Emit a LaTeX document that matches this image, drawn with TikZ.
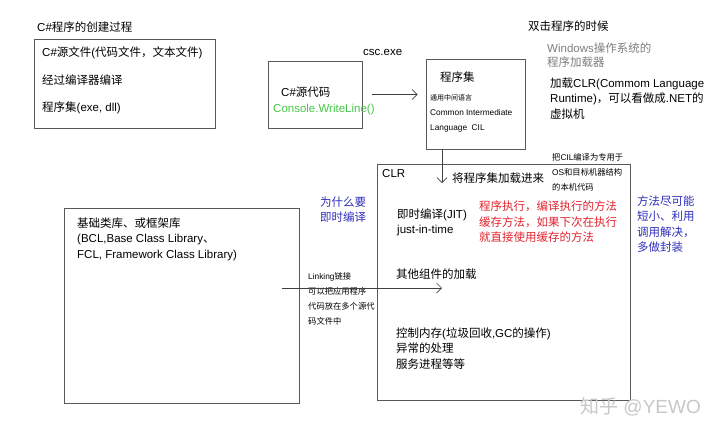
\documentclass[tikz,border=0pt]{standalone}
\usepackage{fontspec}
\usepackage{tikz}
\usetikzlibrary{arrows.meta}
\setmainfont{Liberation Sans}
\newfontfamily\cjk{Noto Sans CJK SC}
\newcommand{\zh}[1]{{\cjk #1}}
\definecolor{codegreen}{RGB}{70,200,70}
\definecolor{jitred}{RGB}{225,35,45}
\definecolor{noteblue}{RGB}{45,45,185}
\definecolor{loadergray}{RGB}{125,125,125}

\begin{document}
\begin{tikzpicture}[x=1pt,y=-1pt,
		box/.style={draw=black!65,line width=0.8pt,inner sep=0pt},
		txt/.style={anchor=west,align=left,inner sep=0pt,font=\fontsize{11.5}{15.5}\selectfont},
		zhtxt/.style={txt,font=\cjk\fontsize{11.5}{15.5}\selectfont},
		smalltxt/.style={txt,font=\fontsize{8.3}{15}\selectfont},
		arr/.style={black!75,line width=0.7pt,-{Straight Barb[length=5pt,width=10pt]}}]
			\useasboundingbox (0,0) rectangle (716,440);
			\node[box,minimum width=181pt,minimum height=89pt] (steps) at (124.5,83.5) {};
			\node[box,minimum width=94pt,minimum height=67pt] (csrc) at (315,94.5) {};
			\node[box,minimum width=99pt,minimum height=90pt] (asm) at (475.5,104) {};
			\node[box,minimum width=253pt,minimum height=236pt] (clr) at (503.5,282) {};
			\node[box,minimum width=235pt,minimum height=195pt] (bcl) at (181.5,305.5) {};
			\coordinate (loadin) at (442,183);
			\coordinate (linkstart) at (282,288);

			\node[txt] (title) at (37,27) {C\#\zh{程序的创建过程}};
			\node[txt,font=\fontsize{11.5}{27.5}\selectfont] (stepstxt) at (42,80.5) {C\#\zh{源文件}(\zh{代码文件，文本文件})\\\zh{经过编译器编译}\\\zh{程序集}(exe, dll)};
			\node[txt] (csrctxt) at (281,92) {C\#\zh{源代码}};
			\node[txt,text=codegreen] (writeline) at (273,110) {Console.WriteLine()};
			\node[txt] (csc) at (363,52) {csc.exe};
			\node[zhtxt] (asmtxt) at (440,77) {程序集};
			\node[smalltxt] (ciltxt) at (430,113) {{\cjk\fontsize{7}{15}\selectfont 通用中间语言}\\Common Intermediate\\Language~~CIL};
			\node[zhtxt] (dblclick) at (528,26) {双击程序的时候};
			\node[txt,text=loadergray,font=\fontsize{11.5}{14}\selectfont] (loader) at (547,55) {Windows\zh{操作系统的}\\\zh{程序加载器}};
			\node[txt] (loadclr) at (550,98.5) {\zh{加载}CLR(Commom Language\\Runtime)\zh{，可以看做成}.NET\zh{的}\\\zh{虚拟机}};
			\node[smalltxt] (native) at (552,172) {\zh{把}CIL\zh{编译为专用于}\\OS\zh{和目标机器结构}\\\zh{的本机代码}};
			\node[txt] (clrtxt) at (382,174) {CLR};
			\node[zhtxt] (loadasm) at (452,178) {将程序集加载进来};
			\node[zhtxt,text=noteblue] (whyjit) at (320,209.5) {为什么要\\即时编译};
			\node[txt] (jit) at (397,222.5) {\zh{即时编译}(JIT)\\just-in-time};
			\node[zhtxt,text=jitred] (cache) at (479,222) {程序执行，编译执行的方法\\缓存方法，如果下次在执行\\就直接使用缓存的方法};
			\node[zhtxt,text=noteblue] (short) at (637,224) {方法尽可能\\短小、利用\\调用解决，\\多做封装};
			\node[zhtxt] (others) at (396,274) {其他组件的加载};
			\node[smalltxt] (linking) at (308,299) {Linking\zh{链接}\\\zh{可以把应用程序}\\\zh{代码放在多个源代}\\\zh{码文件中}};
			\node[txt] (gc) at (396,348.5) {\zh{控制内存}(\zh{垃圾回收},GC\zh{的操作})\\\zh{异常的处理}\\\zh{服务进程等等}};
			\node[txt] (bcltxt) at (77,239) {\zh{基础类库、或框架库}\\(BCL,Base Class Library\zh{、}\\FCL, Framework Class Library)};
			\node[txt,text=black!22,font=\fontsize{19}{19}\selectfont] (mark) at (580,407) {\zh{知乎} @YEWO};

			\draw[arr,shorten <=10pt,shorten >=8pt] (csrc.east) -- (csrc.east -| asm.west);
			\draw[arr] (asm.south -| loadin) -- (loadin);
			\draw[arr] (linkstart) -- (linkstart -| loadin);
		\end{tikzpicture}
\end{document}
